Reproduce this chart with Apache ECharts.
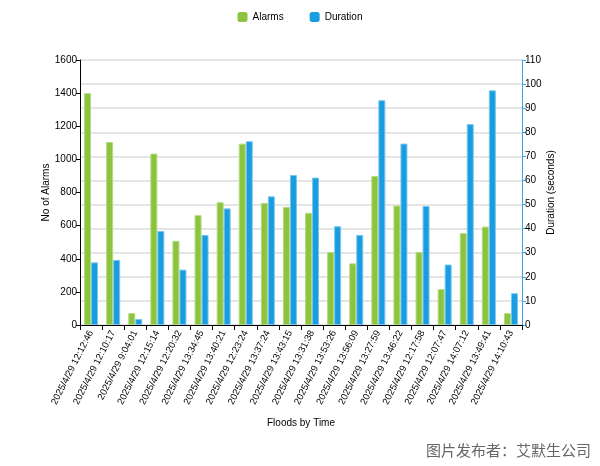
<!DOCTYPE html>
<html>
<head>
<meta charset="utf-8">
<script src="https://cdn.jsdelivr.net/npm/echarts@6/dist/echarts.min.js"></script>
<style>
html, body { margin: 0; padding: 0; background: #fff; }
#main { width: 600px; height: 466px; }
</style>
</head>
<body>
<div id="main"></div>
<script>
var times = [
    '2025/4/29 12:12:46', '2025/4/29 12:10:17', '2025/4/29 9:04:01', '2025/4/29 12:15:14',
    '2025/4/29 12:20:32', '2025/4/29 13:34:45', '2025/4/29 13:40:21', '2025/4/29 12:23:24',
    '2025/4/29 13:37:24', '2025/4/29 13:43:15', '2025/4/29 13:31:38', '2025/4/29 13:53:26',
    '2025/4/29 13:56:09', '2025/4/29 13:27:59', '2025/4/29 13:46:22', '2025/4/29 12:17:58',
    '2025/4/29 12:07:47', '2025/4/29 14:07:12', '2025/4/29 13:49:41', '2025/4/29 14:10:43'
];
var alarms = [1400, 1105, 72, 1035, 508, 663, 741, 1095, 737, 713, 677, 440, 372, 900, 721, 440, 217, 555, 594, 72];
var duration = [26, 27, 2.5, 39, 23, 37.4, 48.4, 76.3, 53.4, 62.3, 61.2, 41, 37.4, 93.3, 75.3, 49.4, 25.1, 83.4, 97.4, 13.2];

var myChart = echarts.init(document.getElementById('main'));
var txt = { color: '#000', fontSize: 10, fontFamily: 'Liberation Sans' };

var option = {
    animation: false,
    legend: {
        top: 7,
        left: 'center',
        itemWidth: 10,
        itemHeight: 10,
        itemGap: 26,
        itemStyle: { borderWidth: 0 },
        textStyle: txt,
        data: ['Alarms', 'Duration']
    },
    grid: { left: 80, right: 78, top: 60, bottom: 141 },
    xAxis: {
        type: 'category',
        data: times,
        name: 'Floods by Time',
        nameLocation: 'middle',
        nameGap: 93,
        nameMoveOverlap: false,
        nameTextStyle: txt,
        axisLine: { lineStyle: { color: '#000' } },
        axisTick: { show: true, length: 5, lineStyle: { color: '#000' } },
        axisLabel: { rotate: 63, interval: 0, margin: 6, color: '#000', fontSize: 9.5, fontFamily: 'Liberation Sans' }
    },
    yAxis: [{
        type: 'value',
        min: 0,
        max: 1600,
        interval: 200,
        name: 'No of Alarms',
        nameLocation: 'middle',
        nameGap: 29,
        nameMoveOverlap: false,
        nameTextStyle: txt,
        axisLine: { show: true, lineStyle: { color: '#000' } },
        axisTick: { show: true, length: 4, lineStyle: { color: '#000' } },
        axisLabel: { margin: 3, color: '#000', fontSize: 10, fontFamily: 'Liberation Sans', formatter: function (v) { return String(v); } },
        splitLine: { show: false }
    }, {
        type: 'value',
        min: 0,
        max: 110,
        interval: 10,
        position: 'right',
        name: 'Duration (seconds)',
        nameLocation: 'middle',
        nameRotate: 90,
        nameGap: 24,
        nameMoveOverlap: false,
        nameTextStyle: txt,
        axisLine: { show: true, lineStyle: { color: '#3aa6e6' } },
        axisTick: { show: true, length: 4, lineStyle: { color: '#3aa6e6' } },
        axisLabel: { margin: 3, color: '#000', fontSize: 10, fontFamily: 'Liberation Sans' },
        splitLine: { show: true, lineStyle: { color: '#dddddd', width: 1.5 } }
    }],
    series: [{
        name: 'Alarms',
        type: 'bar',
        yAxisIndex: 0,
        data: alarms,
        barWidth: 7,
        barGap: '0%',
        itemStyle: { color: '#8cc43f', borderColor: '#b3da7c', borderWidth: 1 }
    }, {
        name: 'Duration',
        type: 'bar',
        yAxisIndex: 1,
        data: duration,
        barWidth: 7,
        barGap: '0%',
        itemStyle: { color: '#1a9de0', borderColor: '#79c6ee', borderWidth: 1 }
    }],
    graphic: [{
        type: 'text',
        right: 9,
        bottom: 8,
        style: {
            text: '图片发布者：艾默生公司',
            fill: '#666',
            font: '15px "Noto Sans CJK SC"'
        }
    }]
};

myChart.setOption(option);
</script>
</body>
</html>
